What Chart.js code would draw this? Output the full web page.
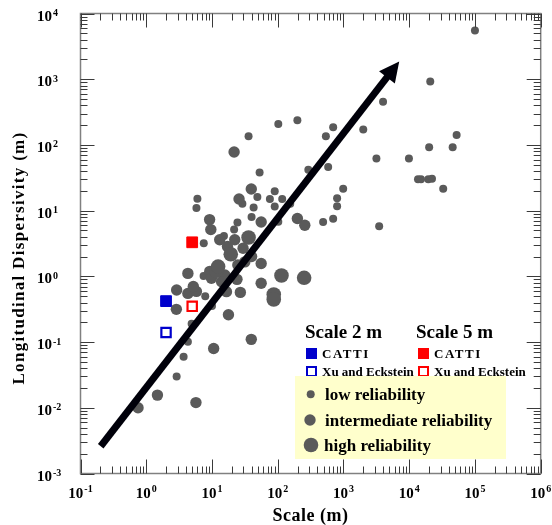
<!DOCTYPE html>
<html><head><meta charset="utf-8">
<script src="https://cdn.jsdelivr.net/npm/chart.js@4"></script>
<style>html,body{margin:0;padding:0;background:#fff;overflow:hidden}canvas{display:block}</style>
</head><body>
<canvas id="c" width="552" height="525"></canvas>
<script>
// ---- data ----
const xTickExps = [-1, 0, 1, 2, 3, 4, 5, 6];
const yTickExps = [-3, -2, -1, 0, 1, 2, 3, 4];

const lowReliability = [
  [100000, 5500], [20900, 920], [4000, 456], [199, 238], [102, 208], [697, 185],
  [540, 135], [2000, 171], [52600, 142], [20100, 92], [45800, 92], [36, 135],
  [3170, 62], [9900, 62], [53, 38], [292, 42], [585, 46], [13600, 30], [15100, 30],
  [19500, 30], [22200, 30.5], [32900, 21.5], [990, 21.5], [800, 15.4], [800, 11.7],
  [697, 7.5], [490, 6.7], [3490, 5.8], [90, 19.8], [49, 16.1], [76, 15], [117, 15],
  [155, 12.7], [6.0, 15.2], [5.8, 11], [43, 11.2], [90, 11.6], [24.4, 6.6],
  [21.7, 5.15], [40, 8], [102, 6.75], [15.2, 4.1], [7.5, 3.2], [29, 12.7],
  [7.45, 1.01], [7.9, 0.5], [10, 0.354], [4.9, 0.19], [4.3, 0.101], [3.7, 0.06], [2.9, 0.03]
];
const intermediateReliability = [
  [21.7, 78], [39.6, 21.3], [25.8, 15], [9.2, 7.3], [9.6, 5.15], [56, 6.7], [199, 7.6],
  [258, 6.0], [4.3, 1.11], [2.9, 0.62], [2.87, 0.315], [4.3, 0.55], [5.8, 0.59], [5.2, 0.7],
  [17.8, 0.26], [27, 0.57], [16.6, 0.585], [39.6, 0.11], [10.6, 0.08], [1.48, 0.0156],
  [0.75, 0.01], [5.7, 0.012], [56, 0.785], [56, 1.57], [11, 1.25], [9.25, 1.19],
  [15.7, 1.05], [14, 0.83], [9.8, 0.935], [24, 0.9], [17.2, 2.84], [29.7, 2.68],
  [40, 2.0], [13.1, 3.6], [22.2, 3.6], [31.6, 1.66], [24.7, 1.49]
];
const highReliability = [
  [36, 3.9], [11.6, 1.21], [12.4, 1.41], [19.3, 2.17], [114, 1.03], [252, 0.95], [87, 0.53], [87, 0.445]
];
const cattiScale2 = [[2, 0.42]];
const xuEcksteinScale2 = [[2, 0.14]];
const cattiScale5 = [[5, 3.3]];
const xuEcksteinScale5 = [[5, 0.35]];
const trendArrow = [[0.203, 0.0026], [5000, 1191]];
const trendArrowTip = [7046, 1855];

// ---- styling ----
const GREY = '#5a5a5a';
const SERIF = '"Liberation Serif","Times New Roman",serif';
const toXY = a => a.map(([x, y]) => ({x, y}));

const decor = {
  id: 'decor',
  beforeDraw(chart) {
    const c = chart.ctx; c.save(); c.fillStyle = '#fff'; c.fillRect(0, 0, chart.width, chart.height); c.restore();
  },
  afterDatasetsDraw(chart) {
    const c = chart.ctx, xs = chart.scales.x, ys = chart.scales.y, a = chart.chartArea;
    c.save();
    // arrow head
    const meta = chart.getDatasetMeta(0);
    const pts = meta.data;
    const p0 = pts[0], p1 = pts[pts.length - 1];
    const tx = xs.getPixelForValue(trendArrowTip[0]), ty = ys.getPixelForValue(trendArrowTip[1]);
    let dx = tx - p0.x, dy = ty - p0.y; const L = Math.hypot(dx, dy); dx /= L; dy /= L;
    const bx = tx - dx * 20, by = ty - dy * 20, hw = 10;
    c.fillStyle = '#00000a';
    c.beginPath(); c.moveTo(tx, ty); c.lineTo(bx - dy * hw, by + dx * hw); c.lineTo(bx + dy * hw, by - dx * hw); c.closePath(); c.fill();

    // frame
    c.strokeStyle = '#808080'; c.lineWidth = 1.5;
    c.strokeRect(a.left, a.top, a.right - a.left, a.bottom - a.top);
    // ticks
    c.strokeStyle = '#3a3a3a'; c.lineWidth = 1;
    c.beginPath();
    for (const e of xTickExps) {
      for (let k = 1; k <= 9; k++) {
        const v = k * Math.pow(10, e);
        if (v > xs.max * 1.0001) break;
        const px = Math.round(xs.getPixelForValue(v)) + 0.5, len = k === 1 ? 14 : 7;
        c.moveTo(px, a.bottom); c.lineTo(px, a.bottom - len);
        c.moveTo(px, a.top); c.lineTo(px, a.top + len);
      }
    }
    for (const e of yTickExps) {
      for (let k = 1; k <= 9; k++) {
        const v = k * Math.pow(10, e);
        if (v > ys.max * 1.0001) break;
        const py = Math.round(ys.getPixelForValue(v)) + 0.5, len = k === 1 ? 14 : 7;
        c.moveTo(a.left, py); c.lineTo(a.left + len, py);
        c.moveTo(a.right, py); c.lineTo(a.right - len, py);
      }
    }
    c.stroke();

    // tick labels
    const baseFont = 'bold 15px ' + SERIF, supFont = 'bold 10px ' + SERIF;
    c.fillStyle = '#000'; c.textBaseline = 'alphabetic';
    for (const e of xTickExps) {
      const px = xs.getPixelForValue(Math.pow(10, e));
      c.font = baseFont; const wb = c.measureText('10').width;
      c.font = supFont; const ws = c.measureText(String(e)).width;
      const s = px - (wb + ws + 1) / 2;
      c.textAlign = 'left';
      c.font = baseFont; c.fillText('10', s, a.bottom + 24.5);
      c.font = supFont; c.fillText(String(e), s + wb + 1, a.bottom + 18.5);
    }
    for (const e of yTickExps) {
      const py = ys.getPixelForValue(Math.pow(10, e));
      c.font = baseFont; c.textAlign = 'right'; c.fillText('10', 52, py + 7);
      c.font = supFont; c.textAlign = 'left'; c.fillText(String(e), 53, py + 2.5);
    }
    // axis titles
    c.font = 'bold 18px ' + SERIF; c.textAlign = 'center';
    try { c.letterSpacing = '0.5px'; } catch (err) {}
    c.fillText('Scale (m)', (a.left + a.right) / 2, 521);
    c.save();
    c.translate(24, 258); c.rotate(-Math.PI / 2);
    c.font = 'bold 17px ' + SERIF;
    try { c.letterSpacing = '1.3px'; } catch (err) {}
    c.fillText('Longitudinal Dispersivity (m)', 0, 0);
    c.restore();
    try { c.letterSpacing = '0px'; } catch (err) {}

    // legend
    c.textAlign = 'left';
    c.font = 'bold 19px ' + SERIF;
    c.fillText('Scale 2 m', 305, 338);
    c.fillText('Scale 5 m', 416, 338);
    c.fillStyle = '#0000cc'; c.fillRect(306, 348, 11, 11);
    c.fillStyle = '#ff0000'; c.fillRect(418, 348, 11, 11);
    c.lineWidth = 2;
    c.fillStyle = '#fff';
    c.strokeStyle = '#0000cc'; c.fillRect(307, 367, 9, 9); c.strokeRect(307, 367, 9, 9);
    c.strokeStyle = '#ff0000'; c.fillRect(419, 367, 9, 9); c.strokeRect(419, 367, 9, 9);
    c.fillStyle = '#000';
    c.font = 'bold 13px ' + SERIF;
    try { c.letterSpacing = '1.5px'; } catch (err) {}
    c.fillText('CATTI', 322, 357.5);
    c.fillText('CATTI', 434, 357.5);
    try { c.letterSpacing = '0px'; } catch (err) {}
    c.fillText('Xu and Eckstein', 322, 375.5);
    c.fillText('Xu and Eckstein', 434, 375.5);
    c.fillStyle = '#ffffcc'; c.fillRect(295, 376, 211, 83);
    c.fillStyle = GREY;
    [[310.7, 394.3, 4], [310, 420, 5.7], [311, 445, 7.3]].forEach(([x, y, r]) => {
      c.beginPath(); c.arc(x, y, r, 0, Math.PI * 2); c.fill();
    });
    c.fillStyle = '#000'; c.font = 'bold 17px ' + SERIF;
    c.fillText('low reliability', 325, 400);
    c.fillText('intermediate reliability', 325, 425.5);
    c.fillText('high reliability', 324, 450.5);
    c.restore();
  }
};

const pointSet = (data, r) => ({
  data: toXY(data), pointRadius: r, pointHoverRadius: r, backgroundColor: GREY, borderWidth: 0, pointStyle: 'circle'
});
const squareSet = (data, color, filled) => ({
  data: toXY(data), pointStyle: 'rect', pointRadius: filled ? 7.6 : 6.6, pointHoverRadius: filled ? 7.6 : 6.6,
  backgroundColor: filled ? color : '#ffffff', borderColor: color, borderWidth: filled ? 1 : 2.2
});

new Chart(document.getElementById('c'), {
  type: 'scatter',
  data: {
    datasets: [
      { type: 'line', data: toXY(trendArrow), borderColor: '#00000a', borderWidth: 7, pointRadius: 0,
        borderCapStyle: 'butt', fill: false, tension: 0 },
      squareSet(xuEcksteinScale5, '#ff0000', false),
      squareSet(cattiScale5, '#ff0000', true),
      squareSet(xuEcksteinScale2, '#0000cc', false),
      squareSet(cattiScale2, '#0000cc', true),
      pointSet(highReliability, 7.3),
      pointSet(intermediateReliability, 5.7),
      pointSet(lowReliability, 4)
    ]
  },
  options: {
    responsive: false, animation: false, devicePixelRatio: 1,
    layout: { padding: { left: 80.5, right: 11.3, top: 13.5, bottom: 51.5 } },
    scales: {
      x: { type: 'logarithmic', min: 0.1, max: 1e6, display: false },
      y: { type: 'logarithmic', min: 0.001, max: 1e4, display: false }
    },
    plugins: { legend: { display: false }, tooltip: { enabled: false } },
    events: []
  },
  plugins: [decor]
});
</script>
</body></html>
